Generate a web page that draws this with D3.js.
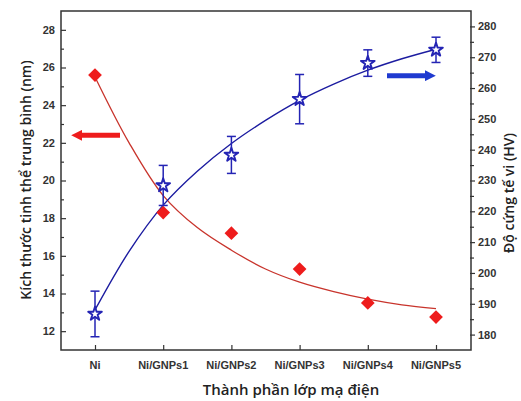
<!DOCTYPE html>
<html>
<head>
<meta charset="utf-8">
<script src="https://cdn.jsdelivr.net/npm/d3@7"></script>
<style>
  body { margin: 0; background: #fff; }
  svg { display: block; }
</style>
</head>
<body>
<div id="chart"></div>
<script>
// categories and measured values
const categories = ["Ni", "Ni/GNPs1", "Ni/GNPs2", "Ni/GNPs3", "Ni/GNPs4", "Ni/GNPs5"];
const crystalSize = [25.6, 18.3, 17.2, 15.3, 13.5, 12.75];
const hardness = [186.7, 228.4, 238.3, 256.4, 268.1, 272.4];
const hardnessErr = [7.4, 6.5, 6.0, 8.0, 4.3, 4.1];

// fitted curves at half-category steps
const fitPos = [0, 0.5, 1, 1.5, 2, 2.5, 3, 3.5, 4, 4.5, 5];
const sizeFit = [25.5, 22.0, 19.2, 17.5, 16.3, 15.3, 14.6, 14.1, 13.7, 13.4, 13.2];
const hardFit = [188, 207, 222, 233, 242, 249.5, 256, 261.3, 265.8, 269.5, 272.6];

const leftTicks = [12, 14, 16, 18, 20, 22, 24, 26, 28];
const rightTicks = [180, 190, 200, 210, 220, 230, 240, 250, 260, 270, 280];

const W = 521, H = 401;
const plot = { left: 61, right: 471, top: 11, bottom: 350 };

const svg = d3.select("#chart")
    .append("svg")
    .attr("width", W)
    .attr("height", H);

const xScale = d3.scaleLinear()
    .domain([0, 5])
    .range([95, 436]);

const yLeft = d3.scaleLinear()
    .domain([11, 29])
    .range([plot.bottom, plot.top]);

const yRight = d3.scaleLinear()
    .domain([175, 285])
    .range([plot.bottom, plot.top]);

const red = "#ee1c1c", redLine = "#c8342c";
const blue = "#2424b4", blueLine = "#1c1ca0";
const axisColor = "#333";
const tickFont = "bold 11px 'Liberation Sans', Arial, sans-serif";

// left axis: ticks point inward
const leftAxis = svg.append("g")
    .attr("transform", "translate(" + plot.left + ",0)")
    .call(d3.axisRight(yLeft).tickValues(d3.range(12, 29, 1)).tickSize(5).tickFormat(""));
leftAxis.selectAll(".tick line")
    .attr("x2", d => d % 2 === 0 ? 5 : 3);
leftAxis.select(".domain").remove();
svg.append("g")
    .selectAll("text")
    .data(leftTicks)
    .enter()
    .append("text")
    .attr("x", plot.left - 6)
    .attr("y", d => yLeft(d))
    .attr("dy", "0.36em")
    .attr("text-anchor", "end")
    .style("font", tickFont)
    .style("fill", "#333")
    .text(d => d);

// right axis: ticks point outward
const rightAxis = svg.append("g")
    .attr("transform", "translate(" + plot.right + ",0)")
    .call(d3.axisRight(yRight).tickValues(d3.range(180, 285, 5)).tickSize(4).tickFormat(""));
rightAxis.selectAll(".tick line")
    .attr("x1", -1)
    .attr("x2", d => d % 10 === 0 ? 4 : 3);
rightAxis.select(".domain").remove();
svg.append("g")
    .selectAll("text")
    .data(rightTicks)
    .enter()
    .append("text")
    .attr("x", plot.right + 7)
    .attr("y", d => yRight(d))
    .attr("dy", "0.36em")
    .style("font", tickFont)
    .style("fill", "#333")
    .text(d => d);

// bottom axis
const bottomAxis = svg.append("g")
    .attr("transform", "translate(0," + plot.bottom + ")")
    .call(d3.axisTop(xScale).tickValues(d3.range(0, 6)).tickSize(5).tickFormat(""));
bottomAxis.select(".domain").remove();
svg.append("g")
    .selectAll("text")
    .data(categories)
    .enter()
    .append("text")
    .attr("x", (d, i) => xScale(i))
    .attr("y", 369)
    .attr("text-anchor", "middle")
    .style("font", tickFont)
    .style("fill", "#333")
    .text(d => d);

svg.selectAll(".tick line")
    .attr("stroke", axisColor)
    .attr("stroke-width", 1.2);

// frame
svg.append("rect")
    .attr("x", plot.left)
    .attr("y", plot.top)
    .attr("width", plot.right - plot.left)
    .attr("height", plot.bottom - plot.top)
    .attr("fill", "none")
    .attr("stroke", axisColor)
    .attr("stroke-width", 1.5);

// fitted curves
const sizeLine = d3.line()
    .x((d, i) => xScale(fitPos[i]))
    .y(d => yLeft(d))
    .curve(d3.curveCatmullRom);
svg.append("path")
    .datum(sizeFit)
    .attr("d", sizeLine)
    .attr("fill", "none")
    .attr("stroke", redLine)
    .attr("stroke-width", 1.3);

const hardLine = d3.line()
    .x((d, i) => xScale(fitPos[i]))
    .y(d => yRight(d))
    .curve(d3.curveCatmullRom);
svg.append("path")
    .datum(hardFit)
    .attr("d", hardLine)
    .attr("fill", "none")
    .attr("stroke", blueLine)
    .attr("stroke-width", 1.4);

// red diamonds
svg.append("g")
    .selectAll("path")
    .data(crystalSize)
    .enter()
    .append("path")
    .attr("d", d3.symbol().type(d3.symbolDiamond2).size(120))
    .attr("transform", (d, i) => "translate(" + xScale(i) + "," + yLeft(d) + ")")
    .attr("fill", red);

// blue error bars
const errG = svg.append("g")
    .attr("stroke", blue)
    .attr("stroke-width", 1.5);
hardness.forEach((v, i) => {
    const x = xScale(i);
    const y1 = yRight(v + hardnessErr[i]);
    const y2 = yRight(v - hardnessErr[i]);
    errG.append("line").attr("x1", x).attr("x2", x).attr("y1", y1).attr("y2", y2);
    errG.append("line").attr("x1", x - 4.5).attr("x2", x + 4.5).attr("y1", y1).attr("y2", y1);
    errG.append("line").attr("x1", x - 4.5).attr("x2", x + 4.5).attr("y1", y2).attr("y2", y2);
});

// blue stars
svg.append("g")
    .selectAll("path")
    .data(hardness)
    .enter()
    .append("path")
    .attr("d", d3.symbol().type(d3.symbolStar).size(58))
    .attr("transform", (d, i) => "translate(" + xScale(i) + "," + yRight(d) + ")")
    .attr("fill", "#fff")
    .attr("stroke", blue)
    .attr("stroke-width", 1.9)
    .attr("stroke-linejoin", "round");

// arrows pointing to each axis
const defs = svg.append("defs");
defs.append("marker")
    .attr("id", "headRed")
    .attr("viewBox", "0 0 10 10")
    .attr("refX", 2).attr("refY", 5)
    .attr("markerWidth", 2.2).attr("markerHeight", 2.2)
    .attr("orient", "auto")
    .append("path").attr("d", "M0,0L10,5L0,10Z").attr("fill", red);
defs.append("marker")
    .attr("id", "headBlue")
    .attr("viewBox", "0 0 10 10")
    .attr("refX", 2).attr("refY", 5)
    .attr("markerWidth", 2.2).attr("markerHeight", 2.2)
    .attr("orient", "auto")
    .append("path").attr("d", "M0,0L10,5L0,10Z").attr("fill", "#1f3ad0");

svg.append("line")
    .attr("x1", 120).attr("x2", 80)
    .attr("y1", yLeft(22.4)).attr("y2", yLeft(22.4))
    .attr("stroke", red).attr("stroke-width", 5)
    .attr("marker-end", "url(#headRed)");
svg.append("line")
    .attr("x1", 387).attr("x2", 427)
    .attr("y1", yRight(264)).attr("y2", yRight(264))
    .attr("stroke", "#1f3ad0").attr("stroke-width", 5)
    .attr("marker-end", "url(#headBlue)");

// axis titles
const titleFont = "600 15px 'Open Sans', 'Noto Sans', sans-serif";
svg.append("text")
    .attr("transform", "translate(31,180) rotate(-90)")
    .attr("text-anchor", "middle")
    .style("font", "600 14px 'Open Sans', 'Noto Sans', sans-serif")
    .style("fill", "#222")
    .text("Kích thước tinh thể trung bình (nm)");

svg.append("text")
    .attr("transform", "translate(514,193) rotate(-90)")
    .attr("text-anchor", "middle")
    .style("font", "600 14px 'Open Sans', 'Noto Sans', sans-serif")
    .style("fill", "#222")
    .text("Độ cứng tế vi (HV)");

svg.append("text")
    .attr("x", 291)
    .attr("y", 395)
    .attr("text-anchor", "middle")
    .style("font", titleFont)
    .style("fill", "#222")
    .text("Thành phần lớp mạ điện");
</script>
</body>
</html>
